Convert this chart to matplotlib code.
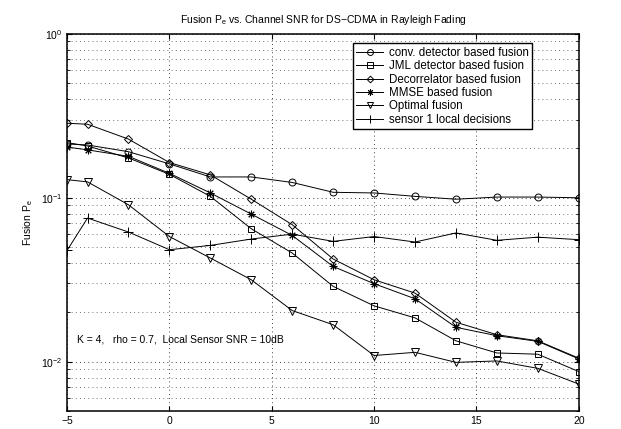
import numpy as np
import matplotlib
matplotlib.use("Agg")
import matplotlib.pyplot as plt

plt.rcParams['font.family'] = ['Liberation Sans', 'DejaVu Sans']

snr = [-5, -4, -2, 0, 2, 4, 6, 8, 10, 12, 14, 16, 18, 20]

conv = [0.213, 0.21, 0.191, 0.161, 0.134, 0.134, 0.124, 0.108, 0.107, 0.102, 0.098, 0.101, 0.101, 0.100]
jml = [0.217, 0.207, 0.175, 0.139, 0.102, 0.0647, 0.046, 0.0288, 0.0219, 0.0185, 0.0134, 0.0113, 0.0111, 0.0087]
decorr = [0.285, 0.281, 0.228, 0.164, 0.138, 0.098, 0.0685, 0.0423, 0.0316, 0.0262, 0.0174, 0.0146, 0.0134, 0.0105]
mmse = [0.204, 0.196, 0.179, 0.141, 0.107, 0.0795, 0.0589, 0.0381, 0.0299, 0.0242, 0.0162, 0.0144, 0.0133, 0.0104]
optimal = [0.129, 0.125, 0.0906, 0.058, 0.0429, 0.0316, 0.0205, 0.0168, 0.0109, 0.0114, 0.0099, 0.0101, 0.0091, 0.0073]
sensor1 = [0.0477, 0.0752, 0.0618, 0.0482, 0.0512, 0.056, 0.060, 0.0542, 0.058, 0.0537, 0.061, 0.055, 0.0575, 0.0555]

labels = ['conv. detector based fusion', 'JML detector based fusion', 'Decorrelator based fusion',
          'MMSE based fusion', 'Optimal fusion', 'sensor 1 local decisions']
# (8, 2, 0) is an asterisk like matlab's '*'
markers = ['o', 's', 'D', (8, 2, 0), 'v', '+']
sizes = [5, 4.5, 4, 5.5, 5.5, 7]

fig = plt.figure(figsize=(6.21, 4.29), dpi=100)
ax = fig.add_axes([0.108, 0.042, 0.824, 0.879])

for y, lab, m, ms in zip([conv, jml, decorr, mmse, optimal, sensor1], labels, markers, sizes):
    ax.semilogy(snr, y, color='black', lw=0.7, marker=m, ms=ms, mfc='none', mec='black', mew=0.7, label=lab)

ax.set_xlim(-5, 20)
ax.set_ylim(0.005, 1)
ax.set_xticks([-5, 0, 5, 10, 15, 20])
ax.set_xticklabels(['\u22125', '0', '5', '10', '15', '20'])
ax.tick_params(axis='both', which='both', direction='in', labelsize=7.5, top=True, right=True)
ax.grid(True, which='major', ls=(0, (1, 4)), color='black', lw=0.6)
ax.grid(True, which='minor', axis='y', ls=(0, (1, 4)), color='#444444', lw=0.6)
for s in ax.spines.values():
    s.set_linewidth(1.1)

ax.set_title('Fusion P$_\\mathregular{e}$ vs. Channel SNR for DS\u2212CDMA in Rayleigh Fading', fontsize=7.5, pad=8)
ax.set_ylabel('Fusion P$_\\mathregular{e}$', fontsize=7.5)
ax.text(-4.5, 0.0136, 'K = 4,   rho = 0.7,  Local Sensor SNR = 10dB', fontsize=7.5, va='center')

leg = ax.legend(loc='upper right', bbox_to_anchor=(0.92, 0.99), fontsize=8.3, fancybox=False,
                framealpha=1, edgecolor='black', borderpad=0.3, labelspacing=0.12, handlelength=2.3,
                handletextpad=0.5, markerscale=0.85)
leg.get_frame().set_linewidth(1.0)

fig.savefig('out.png', dpi=100)
